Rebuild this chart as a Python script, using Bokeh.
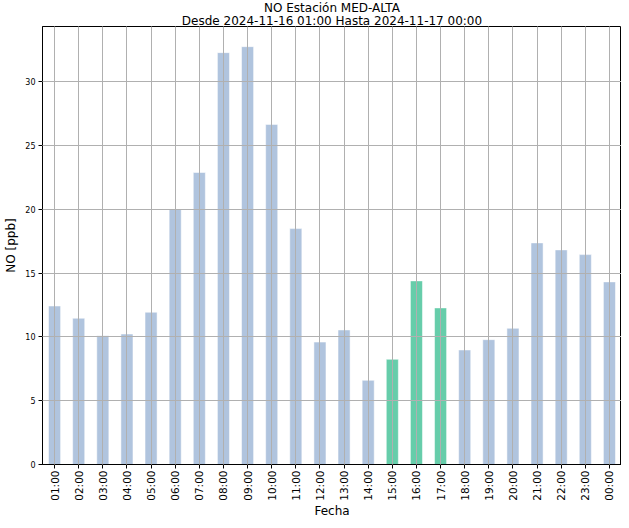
import math
from bokeh.plotting import figure
from bokeh.models import ColumnDataSource, FactorRange, Range1d, FixedTicker, Title
from bokeh.embed import file_html
from bokeh.resources import INLINE

hours = ["01:00", "02:00", "03:00", "04:00", "05:00", "06:00", "07:00", "08:00",
         "09:00", "10:00", "11:00", "12:00", "13:00", "14:00", "15:00", "16:00",
         "17:00", "18:00", "19:00", "20:00", "21:00", "22:00", "23:00", "00:00"]
no_ppb = [12.43, 11.47, 10.1, 10.23, 11.94, 20.0, 22.9, 32.3,
          32.77, 26.67, 18.5, 9.6, 10.55, 6.6, 8.25, 14.4,
          12.28, 8.98, 9.79, 10.68, 17.38, 16.83, 16.46, 14.32]
highlight = ["15:00", "16:00", "17:00"]
y_ticks = [0, 5, 10, 15, 20, 25, 30]
title_line1 = "NO Estación MED-ALTA"
title_line2 = "Desde 2024-11-16 01:00 Hasta 2024-11-17 00:00"

base_color = "#b0c4de"
hi_color = "#66cdaa"
colors = [hi_color if h in highlight else base_color for h in hours]

src = ColumnDataSource(dict(x=hours, top=no_ppb, color=colors))

FONT = "DejaVu Sans"

p = figure(width=621, height=520, output_backend="svg", toolbar_location=None,
           title=None,
           x_range=FactorRange(factors=hours, range_padding=0),
           y_range=Range1d(0, 34.35),
           min_border_left=42, min_border_right=0, min_border_top=0, min_border_bottom=0)

for txt in (title_line2, title_line1):
    t = Title(text=txt, align="center", text_font=FONT, text_font_size="12px",
              text_font_style="normal", text_color="#000000", standoff=-3, offset=0)
    p.add_layout(t, "above")

p.vbar(x="x", top="top", width=0.5, source=src, fill_color="color",
       line_color="white", line_alpha=0.5, line_width=1, fill_alpha=1.0)

p.background_fill_color = "white"
p.border_fill_color = "white"
p.outline_line_color = "#000000"
p.outline_line_width = 1

for g in (p.xgrid, p.ygrid):
    g.grid_line_color = "#b0b0b0"
    g.grid_line_width = 1
    g.level = "annotation"
p.ygrid.ticker = FixedTicker(ticks=y_ticks)

p.yaxis.ticker = FixedTicker(ticks=y_ticks)
p.yaxis.axis_label = "NO [ppb]"
p.xaxis.axis_label = "Fecha"

for ax in (p.xaxis, p.yaxis):
    ax.axis_label_text_font = FONT
    ax.axis_label_text_font_size = "12px"
    ax.axis_label_text_font_style = "normal"
    ax.axis_label_text_color = "#000000"
    ax.major_label_text_font = FONT
    ax.major_label_text_color = "#000000"
    ax.axis_line_color = "#000000"
    ax.axis_line_width = 1
    ax.major_tick_line_color = "#000000"
    ax.major_tick_out = 4
    ax.major_tick_in = 0
    ax.minor_tick_line_color = None

p.yaxis.major_label_text_font_size = "8px"
p.yaxis.major_label_standoff = 3
p.yaxis.axis_label_standoff = 4
p.xaxis.major_label_text_font_size = "10.5px"
p.xaxis.major_label_orientation = math.pi / 2
p.xaxis.major_label_standoff = 2
p.xaxis.axis_label_standoff = 0

open("out.html", "w").write(file_html(p, INLINE))
